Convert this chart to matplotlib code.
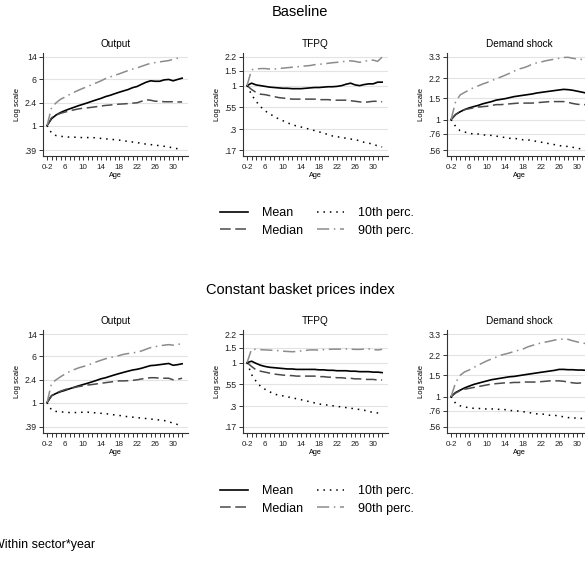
import numpy as np
import matplotlib
matplotlib.use("Agg")
import matplotlib.pyplot as plt
from matplotlib.lines import Line2D

plt.rcParams['font.family'] = ['Liberation Sans', 'DejaVu Sans']

ages = list(range(2, 33))
xtick_vals = [2, 6, 10, 14, 18, 22, 26, 30]
xtick_labels = ["0-2", "6", "10", "14", "18", "22", "26", "30"]

panel_titles = ["Output", "TFPQ", "Demand shock"]
block_titles = ["Baseline", "Constant basket prices index"]
series_names = ["Mean", "Median", "10th perc.", "90th perc."]

ytick_vals = [[0.39, 1, 2.4, 6, 14],
              [0.17, 0.3, 0.55, 1, 1.5, 2.2],
              [0.56, 0.76, 1, 1.5, 2.2, 3.3]]
ytick_labels = [[".39", "1", "2.4", "6", "14"],
                [".17", ".3", ".55", "1", "1.5", "2.2"],
                [".56", ".76", "1", "1.5", "2.2", "3.3"]]

# ---------------- Baseline ----------------
base_output_mean = [1.0, 1.3, 1.5, 1.65, 1.78, 1.9, 2.02, 2.15, 2.27, 2.4, 2.55, 2.7, 2.85, 3.05, 3.2, 3.4,
                    3.6, 3.8, 4.0, 4.3, 4.5, 4.9, 5.3, 5.6, 5.5, 5.5, 5.8, 5.9, 5.6, 5.9, 6.2]
base_output_median = [1.0, 1.35, 1.5, 1.6, 1.68, 1.76, 1.83, 1.9, 1.95, 1.98, 2.02, 2.07, 2.12, 2.17, 2.2, 2.25,
                      2.28, 2.3, 2.33, 2.37, 2.4, 2.55, 2.7, 2.65, 2.55, 2.55, 2.5, 2.5, 2.5, 2.48, 2.48]
base_output_p10 = [1.0, 0.75, 0.68, 0.66, 0.65, 0.64, 0.64, 0.63, 0.63, 0.63, 0.63, 0.62, 0.61, 0.6, 0.59, 0.58,
                   0.57, 0.56, 0.54, 0.53, 0.52, 0.5, 0.49, 0.48, 0.47, 0.46, 0.45, 0.44, 0.42, 0.41, 0.41]
base_output_p90 = [1.0, 2.0, 2.4, 2.75, 3.0, 3.3, 3.6, 3.9, 4.2, 4.5, 4.85, 5.2, 5.6, 6.1, 6.5, 6.9,
                   7.3, 7.8, 8.3, 8.8, 9.2, 9.8, 10.4, 11.0, 11.3, 11.6, 11.9, 12.2, 12.8, 13.4, 14.2]

base_tfpq_mean = [1.0, 1.07, 1.02, 1.0, 0.98, 0.96, 0.95, 0.94, 0.93, 0.93, 0.92, 0.92, 0.92, 0.93, 0.94, 0.95,
                  0.95, 0.96, 0.97, 0.97, 0.98, 1.0, 1.04, 1.07, 1.02, 1.0, 1.03, 1.05, 1.05, 1.1, 1.1]
base_tfpq_median = [1.0, 0.9, 0.83, 0.79, 0.78, 0.76, 0.74, 0.72, 0.71, 0.7, 0.69, 0.69, 0.69, 0.69, 0.69, 0.69,
                    0.68, 0.68, 0.68, 0.67, 0.67, 0.67, 0.67, 0.66, 0.65, 0.64, 0.63, 0.64, 0.65, 0.65, 0.64]
base_tfpq_p10 = [1.0, 0.78, 0.65, 0.56, 0.5, 0.46, 0.43, 0.4, 0.38, 0.36, 0.34, 0.33, 0.32, 0.31, 0.3, 0.29,
                 0.28, 0.27, 0.26, 0.25, 0.245, 0.24, 0.235, 0.23, 0.225, 0.22, 0.21, 0.205, 0.2, 0.19, 0.185]
base_tfpq_p90 = [1.0, 1.55, 1.58, 1.6, 1.6, 1.58, 1.58, 1.6, 1.62, 1.64, 1.66, 1.68, 1.7, 1.72, 1.74, 1.78,
                 1.8, 1.82, 1.85, 1.88, 1.9, 1.93, 1.96, 1.98, 1.95, 1.9, 1.95, 2.0, 2.02, 1.95, 2.2]

base_demand_mean = [1.0, 1.1, 1.16, 1.21, 1.25, 1.28, 1.31, 1.35, 1.38, 1.41, 1.45, 1.47, 1.49, 1.52, 1.55, 1.57,
                    1.59, 1.61, 1.63, 1.66, 1.68, 1.7, 1.72, 1.74, 1.76, 1.78, 1.77, 1.75, 1.72, 1.69, 1.66]
base_demand_median = [1.0, 1.1, 1.17, 1.21, 1.23, 1.25, 1.27, 1.28, 1.29, 1.31, 1.33, 1.33, 1.34, 1.35, 1.36, 1.37,
                      1.37, 1.37, 1.37, 1.38, 1.39, 1.4, 1.41, 1.41, 1.41, 1.41, 1.39, 1.36, 1.34, 1.33, 1.33]
base_demand_p10 = [1.0, 0.88, 0.81, 0.79, 0.77, 0.76, 0.76, 0.75, 0.74, 0.74, 0.73, 0.72, 0.71, 0.7, 0.7, 0.69,
                   0.68, 0.68, 0.67, 0.66, 0.65, 0.64, 0.63, 0.62, 0.61, 0.6, 0.6, 0.59, 0.58, 0.57, 0.56]
base_demand_p90 = [1.0, 1.4, 1.6, 1.68, 1.76, 1.84, 1.9, 1.97, 2.03, 2.1, 2.18, 2.25, 2.33, 2.42, 2.52, 2.62,
                   2.68, 2.76, 2.88, 2.95, 3.0, 3.07, 3.12, 3.17, 3.22, 3.27, 3.28, 3.22, 3.18, 3.15, 3.15]

# ---------------- Constant basket prices index ----------------
cb_output_mean = [1.0, 1.3, 1.42, 1.52, 1.6, 1.7, 1.8, 1.9, 2.0, 2.1, 2.22, 2.35, 2.5, 2.6, 2.75, 2.9,
                  3.05, 3.2, 3.35, 3.5, 3.6, 3.75, 3.95, 4.15, 4.2, 4.3, 4.4, 4.5, 4.2, 4.3, 4.45]
cb_output_median = [1.0, 1.3, 1.45, 1.55, 1.65, 1.72, 1.78, 1.85, 1.9, 1.96, 2.0, 2.05, 2.1, 2.15, 2.2, 2.25,
                    2.3, 2.3, 2.32, 2.35, 2.4, 2.48, 2.55, 2.6, 2.6, 2.55, 2.55, 2.55, 2.4, 2.45, 2.55]
cb_output_p10 = [1.0, 0.75, 0.71, 0.7, 0.69, 0.68, 0.68, 0.68, 0.69, 0.69, 0.68, 0.67, 0.66, 0.65, 0.64, 0.62,
                 0.61, 0.59, 0.58, 0.57, 0.56, 0.55, 0.54, 0.53, 0.52, 0.51, 0.5, 0.48, 0.45, 0.43, 0.46]
cb_output_p90 = [1.0, 2.1, 2.4, 2.7, 3.0, 3.3, 3.55, 3.8, 4.0, 4.2, 4.5, 4.8, 5.1, 5.4, 5.6, 5.9,
                 6.1, 6.4, 6.6, 6.8, 6.9, 7.3, 7.8, 8.3, 8.6, 8.9, 9.1, 9.3, 9.1, 9.4, 9.6]

cb_tfpq_mean = [1.0, 1.04, 0.98, 0.93, 0.9, 0.88, 0.87, 0.86, 0.85, 0.84, 0.84, 0.83, 0.83, 0.83, 0.83, 0.83,
                0.82, 0.82, 0.81, 0.81, 0.8, 0.8, 0.8, 0.79, 0.79, 0.78, 0.78, 0.78, 0.77, 0.77, 0.76]
cb_tfpq_median = [1.0, 0.9, 0.82, 0.79, 0.77, 0.75, 0.73, 0.72, 0.71, 0.7, 0.7, 0.69, 0.69, 0.69, 0.69, 0.69,
                  0.68, 0.68, 0.67, 0.67, 0.66, 0.66, 0.65, 0.65, 0.64, 0.64, 0.63, 0.63, 0.63, 0.62, 0.62]
cb_tfpq_p10 = [1.0, 0.72, 0.6, 0.52, 0.48, 0.45, 0.42, 0.41, 0.4, 0.39, 0.38, 0.37, 0.36, 0.35, 0.34, 0.33,
               0.32, 0.315, 0.31, 0.305, 0.3, 0.295, 0.29, 0.285, 0.28, 0.275, 0.27, 0.26, 0.255, 0.25, 0.245]
cb_tfpq_p90 = [1.0, 1.45, 1.44, 1.43, 1.42, 1.41, 1.4, 1.39, 1.37, 1.36, 1.35, 1.36, 1.38, 1.4, 1.42, 1.42,
               1.41, 1.43, 1.44, 1.45, 1.45, 1.45, 1.46, 1.45, 1.44, 1.44, 1.45, 1.46, 1.43, 1.42, 1.44]

cb_demand_mean = [1.0, 1.08, 1.13, 1.18, 1.22, 1.26, 1.29, 1.32, 1.35, 1.38, 1.4, 1.42, 1.44, 1.46, 1.47, 1.49,
                  1.51, 1.53, 1.55, 1.57, 1.59, 1.61, 1.63, 1.65, 1.68, 1.68, 1.67, 1.67, 1.66, 1.66, 1.65]
cb_demand_median = [1.0, 1.07, 1.12, 1.15, 1.17, 1.19, 1.21, 1.23, 1.25, 1.27, 1.28, 1.29, 1.3, 1.3, 1.31, 1.31,
                    1.32, 1.32, 1.32, 1.32, 1.33, 1.34, 1.35, 1.35, 1.35, 1.34, 1.32, 1.3, 1.29, 1.3, 1.3]
cb_demand_p10 = [1.0, 0.88, 0.84, 0.82, 0.81, 0.8, 0.8, 0.79, 0.79, 0.79, 0.79, 0.78, 0.78, 0.77, 0.76, 0.76,
                 0.75, 0.74, 0.73, 0.72, 0.72, 0.71, 0.7, 0.7, 0.69, 0.68, 0.67, 0.67, 0.66, 0.66, 0.66]
cb_demand_p90 = [1.0, 1.3, 1.5, 1.6, 1.66, 1.74, 1.82, 1.9, 1.98, 2.05, 2.12, 2.2, 2.25, 2.3, 2.37, 2.42,
                 2.48, 2.58, 2.65, 2.72, 2.78, 2.83, 2.88, 2.94, 2.98, 3.0, 2.98, 2.9, 2.84, 2.78, 2.75]

blocks = [
    [[base_output_mean, base_output_median, base_output_p10, base_output_p90],
     [base_tfpq_mean, base_tfpq_median, base_tfpq_p10, base_tfpq_p90],
     [base_demand_mean, base_demand_median, base_demand_p10, base_demand_p90]],
    [[cb_output_mean, cb_output_median, cb_output_p10, cb_output_p90],
     [cb_tfpq_mean, cb_tfpq_median, cb_tfpq_p10, cb_tfpq_p90],
     [cb_demand_mean, cb_demand_median, cb_demand_p10, cb_demand_p90]],
]

W, H = 585, 567
fig = plt.figure(figsize=(W / 100, H / 100), dpi=100)
fig.patch.set_facecolor('white')

styles = [
    dict(color='black', lw=1.2, ls='-'),
    dict(color='#4a4a4a', lw=1.1, ls=(0, (7, 3))),
    dict(color='black', lw=1.1, ls=(0, (1, 3.2))),
    dict(color='#8c8c8c', lw=1.1, ls=(0, (8, 3, 1, 3))),
]

def px_rect(l, t, r, b):
    return [l / W, 1 - b / H, (r - l) / W, (b - t) / H]

lefts = [43, 243, 447]
pw = 145
row_tops = [53, 330]
ph = 103
block_title_y = [12, 290]
legend_y = [222, 500]

for bi, block in enumerate(blocks):
    t = row_tops[bi]
    for pi, series in enumerate(block):
        l = lefts[pi]
        ax = fig.add_axes(px_rect(l, t, l + pw, t + ph))
        for s, st in zip(series, styles):
            ax.plot(ages, s, **st)
        ax.set_yscale('log')
        tv = ytick_vals[pi]
        D = np.log(max(tv) / min(tv))
        ax.set_ylim(min(tv) * np.exp(-6 / 93 * D), max(tv) * np.exp(4 / 93 * D))
        ax.set_yticks(tv)
        ax.set_yticklabels(ytick_labels[pi])
        ax.yaxis.set_minor_locator(matplotlib.ticker.NullLocator())
        ax.set_xlim(1.1, 33.3)
        ax.set_xticks(xtick_vals)
        ax.set_xticklabels(xtick_labels)
        ax.set_xticks(ages, minor=True)
        ax.tick_params(axis='x', which='both', length=3, width=0.7, color='#333333',
                       labelsize=5.8, pad=2.5, labelcolor='#222222')
        ax.tick_params(axis='y', which='major', length=3, width=0.7, color='#333333',
                       labelsize=6.3, pad=1.5, labelcolor='#222222')
        ax.grid(axis='y', color='#e3e3e3', lw=0.8)
        ax.set_axisbelow(True)
        for side in ['top', 'right']:
            ax.spines[side].set_visible(False)
        for side in ['left', 'bottom']:
            ax.spines[side].set_color('#333333')
            ax.spines[side].set_linewidth(0.8)
        ax.set_title(panel_titles[pi], fontsize=7.2, pad=4)
        ax.set_xlabel('Age', fontsize=5.2)
        ax.xaxis.set_label_coords(0.5, -16 / ph)
        ax.set_ylabel('Log scale', fontsize=5.5)
        ax.yaxis.set_label_coords(-22 / pw, 0.5)
    fig.text(300 / W, 1 - block_title_y[bi] / H, block_titles[bi], ha='center', va='center',
             fontsize=10.5)
    handles = [Line2D([], [], **st) for st in styles]
    order = [0, 1, 2, 3]
    fig.legend([handles[i] for i in order], [series_names[i] for i in order], ncol=2,
               loc='center', bbox_to_anchor=(317 / W, 1 - legend_y[bi] / H), frameon=False,
               fontsize=9, handlelength=2.2, handletextpad=1.1, columnspacing=1.1,
               labelspacing=0.45)

fig.text(-7 / W, 1 - 545 / H, 'Within sector*year', ha='left', va='center', fontsize=9)

fig.savefig('out.png', dpi=100, facecolor='white')
